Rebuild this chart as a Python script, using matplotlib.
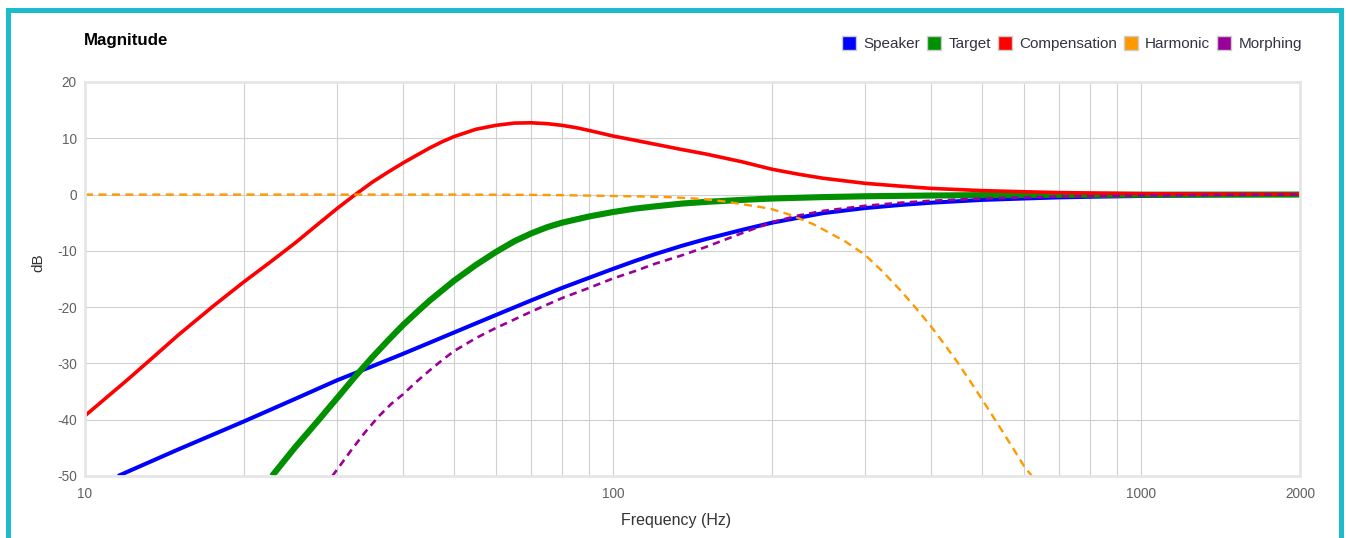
import matplotlib
matplotlib.use("Agg")
import matplotlib.pyplot as plt
from matplotlib.lines import Line2D
from matplotlib.patches import Rectangle
from matplotlib.ticker import FixedLocator, NullFormatter

plt.rcParams['font.family'] = ['Liberation Sans', 'DejaVu Sans']
plt.rcParams['axes.unicode_minus'] = False

# values (Hz, dB)
speaker_f = [11.55, 12, 15, 20, 25, 30, 35, 40, 45, 50, 60, 70, 80, 90, 100, 110, 120, 135, 150, 175,
             200, 225, 250, 300, 350, 400, 500, 600, 700, 850, 1000, 1500, 2000]
speaker_db = [-50, -49.3, -45.3, -40.3, -36.3, -33.0, -30.5, -28.3, -26.3, -24.5, -21.4, -18.8, -16.6, -14.8, -13.2, -11.8, -10.6, -9.1, -7.9, -6.3,
              -5.0, -4.1, -3.3, -2.4, -1.85, -1.45, -0.95, -0.7, -0.5, -0.35, -0.25, -0.1, -0.05]

target_f = [22.6, 25, 27.5, 30, 32.5, 35, 37.5, 40, 42.5, 45, 47.5, 50, 55, 60, 65, 70, 75, 80, 90, 100,
            110, 120, 135, 150, 175, 200, 250, 300, 400, 500, 700, 1000, 2000]
target_db = [-50, -44.9, -40.4, -36.2, -32.3, -28.9, -25.9, -23.2, -20.9, -18.8, -17.0, -15.3, -12.5, -10.2, -8.3, -6.9, -5.8, -5.0, -3.9, -3.1,
             -2.5, -2.1, -1.6, -1.3, -0.95, -0.7, -0.45, -0.3, -0.17, -0.1, -0.05, -0.02, 0]

comp_f = [10, 11, 12, 13.5, 15, 17.5, 20, 22.5, 25, 27.5, 30, 32.5, 35, 37.5, 40, 42.5, 45, 47.5, 50, 55,
          60, 65, 70, 75, 80, 85, 90, 100, 110, 120, 135, 150, 175, 200, 225, 250, 300, 350, 400, 500,
          600, 700, 850, 1000, 1500, 2000]
comp_db = [-39.3, -36.0, -33.0, -28.8, -25.0, -19.8, -15.5, -11.9, -8.6, -5.4, -2.5, 0, 2.2, 4.0, 5.6, 7.0, 8.3, 9.4, 10.3, 11.6,
           12.3, 12.7, 12.75, 12.6, 12.3, 11.9, 11.4, 10.4, 9.65, 8.95, 8.0, 7.2, 5.85, 4.5, 3.6, 2.9, 2.0, 1.5, 1.1, 0.7,
           0.5, 0.35, 0.25, 0.15, 0.07, 0.05]

harm_f = [10, 50, 70, 80, 100, 115, 128, 140, 150, 165, 175, 190, 200, 215, 226, 240, 250, 275, 300, 325,
          350, 375, 400, 425, 450, 475, 500, 525, 550, 575, 600, 621]
harm_db = [0, 0, -0.05, -0.1, -0.25, -0.35, -0.45, -0.65, -0.85, -1.3, -1.7, -2.2, -2.6, -3.5, -4.3, -5.3, -6.2, -8.3, -10.7, -13.8,
           -17.0, -20.2, -23.4, -26.7, -29.9, -33.2, -36.4, -39.5, -42.5, -45.4, -48.2, -50]

morph_f = [29.4, 30, 32, 34, 36, 38, 40, 42.5, 45, 47.5, 50, 55, 60, 65, 70, 80, 90, 100, 110, 120,
           135, 150, 175, 200, 225, 250, 300, 350, 400, 500, 700, 1000, 2000]
morph_db = [-50, -48.9, -45.3, -42.1, -39.4, -37.2, -35.5, -33.2, -31.2, -29.4, -27.8, -25.5, -23.7, -22.2, -20.8, -18.4, -16.6, -14.9, -13.6, -12.3,
            -10.8, -9.3, -6.9, -4.9, -3.7, -2.9, -2.0, -1.45, -1.1, -0.7, -0.35, -0.15, 0]

names = ['Speaker', 'Target', 'Compensation', 'Harmonic', 'Morphing']
colors = ['#0000ff', '#009000', '#ff0000', '#ff9900', '#990099']

fig = plt.figure(figsize=(13.46, 5.38), dpi=100)
ax = fig.add_axes([85/1346, 1 - 476/538, (1300-85)/1346, (476-82)/538])

ax.plot(speaker_f, speaker_db, color=colors[0], lw=2.9, solid_capstyle='butt', solid_joinstyle='round')
ax.plot(target_f, target_db, color=colors[1], lw=4.4, solid_capstyle='butt', solid_joinstyle='round')
ax.plot(comp_f, comp_db, color=colors[2], lw=2.6, solid_capstyle='butt', solid_joinstyle='round')
ax.plot(harm_f, harm_db, color=colors[3], lw=1.7, dashes=(3.4, 2.3))
ax.plot(morph_f, morph_db, color=colors[4], lw=1.9, dashes=(2.8, 2.0))

ax.set_xscale('log')
ax.set_xlim(10, 2000)
ax.set_ylim(-50, 20)
ax.set_yticks(range(-50, 21, 10))
ax.xaxis.set_major_locator(FixedLocator([10, 100, 1000, 2000]))
ax.xaxis.set_minor_locator(FixedLocator([20, 30, 40, 50, 60, 70, 80, 90,
                                         200, 300, 400, 500, 600, 700, 800, 900]))
ax.xaxis.set_minor_formatter(NullFormatter())
ax.set_xticklabels(['10', '100', '1000', '2000'])
ax.grid(True, which='both', color='#d0d0d0', lw=0.8)
ax.set_axisbelow(True)
ax.tick_params(which='both', length=0, labelsize=9.8, labelcolor='#606060')
ax.tick_params(axis='x', pad=8)
ax.tick_params(axis='y', pad=6)
for s in ax.spines.values():
    s.set_color('#e6e6e6')
    s.set_linewidth(2)

ax.set_xlabel('Frequency (Hz)', fontsize=11.5, color='#333333')
ax.xaxis.set_label_coords((676-85)/1215, -(513-476)/394)
ax.set_ylabel('dB', fontsize=11, color='#333333')
ax.yaxis.set_label_coords(-(85-45)/1215, (476-263)/394)

fig.text(84/1346, 1 - 41/538, 'Magnitude', fontsize=12.2, fontweight='bold',
         va='center', ha='left')

handles = [Line2D([], [], ls='none', marker='s', markersize=10, markerfacecolor=c,
                  markeredgecolor='#cccccc', markeredgewidth=1.0) for c in colors]
leg = fig.legend(handles, names, loc='center right', bbox_to_anchor=(1302/1346, 1 - 44/538),
                 ncol=5, frameon=False, fontsize=11, handlelength=0.95,
                 handletextpad=0.45, columnspacing=0.45, borderaxespad=0, borderpad=0)
for t in leg.get_texts():
    t.set_color('#333344')

# cyan frame (open at the bottom)
fig.add_artist(Rectangle((8/1346, -0.1), (1341-8)/1346, 1.1 - 10.5/538,
                         transform=fig.transFigure, fill=False,
                         edgecolor='#1cbccc', lw=3.6))

fig.savefig('out.png', dpi=100)
